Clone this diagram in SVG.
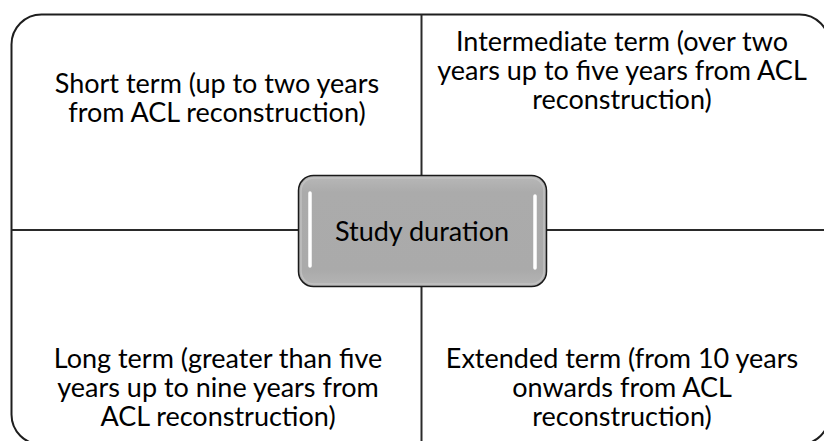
<svg xmlns="http://www.w3.org/2000/svg" width="824" height="441" viewBox="0 0 824 441">
  <style>
    .t { font-family: Lato, "Liberation Sans", sans-serif; font-size: 27px; fill: #000; text-anchor: middle; }
    .frame { fill: #fff; stroke: #1e1e1e; stroke-width: 2; }
    .div { stroke: #2a2a2a; stroke-width: 2; fill: none; }
    .hl { stroke: #fff; stroke-width: 3.5; stroke-linecap: round; fill: none; }
  </style>
  <defs>
    <linearGradient id="g" x1="0" y1="0" x2="0" y2="1">
      <stop offset="0" stop-color="#b8b8b8"/>
      <stop offset="0.15" stop-color="#ababab"/>
      <stop offset="0.85" stop-color="#aaaaaa"/>
      <stop offset="1" stop-color="#b5b5b5"/>
    </linearGradient>
  </defs>
  <rect width="824" height="441" fill="#fff"/>
  <g id="frame">
    <rect class="frame" x="11.5" y="14.5" width="818" height="430" rx="30" ry="30"/>
  </g>
  <g id="connectors">
    <line class="div" x1="421.5" y1="14.5" x2="421.5" y2="175"/>
    <line class="div" x1="421.5" y1="287" x2="421.5" y2="445"/>
    <line class="div" x1="11.5" y1="230" x2="298" y2="230"/>
    <line class="div" x1="547" y1="230" x2="830" y2="230"/>
  </g>
  <g id="short-term">
    <text class="t" x="217" y="93">Short term (up to two years</text>
    <text class="t" x="217" y="122">from ACL reconstruction)</text>
  </g>
  <g id="intermediate-term">
    <text class="t" x="622" y="51">Intermediate term (over two</text>
    <text class="t" x="622" y="80">years up to five years from ACL</text>
    <text class="t" x="622" y="109">reconstruction)</text>
  </g>
  <g id="long-term">
    <text class="t" x="218" y="368">Long term (greater than five</text>
    <text class="t" x="218" y="397">years up to nine years from</text>
    <text class="t" x="218" y="426">ACL reconstruction)</text>
  </g>
  <g id="extended-term">
    <text class="t" x="622" y="368">Extended term (from 10 years</text>
    <text class="t" x="622" y="397">onwards from ACL</text>
    <text class="t" x="622" y="426">reconstruction)</text>
  </g>
  <g id="study-duration">
    <rect x="298.5" y="175.5" width="248" height="111" rx="15" ry="15" fill="url(#g)" stroke="#1a1a1a" stroke-width="1.5"/>
    <rect x="301" y="178" width="243" height="106" rx="13" ry="13" fill="none" stroke="#c8c8c8" stroke-width="1.5" opacity="0.7"/>
    <line class="hl" x1="310" y1="193" x2="310" y2="266"/>
    <line class="hl" x1="535" y1="196" x2="535" y2="268"/>
    <text class="t" x="422" y="241">Study duration</text>
  </g>
</svg>
